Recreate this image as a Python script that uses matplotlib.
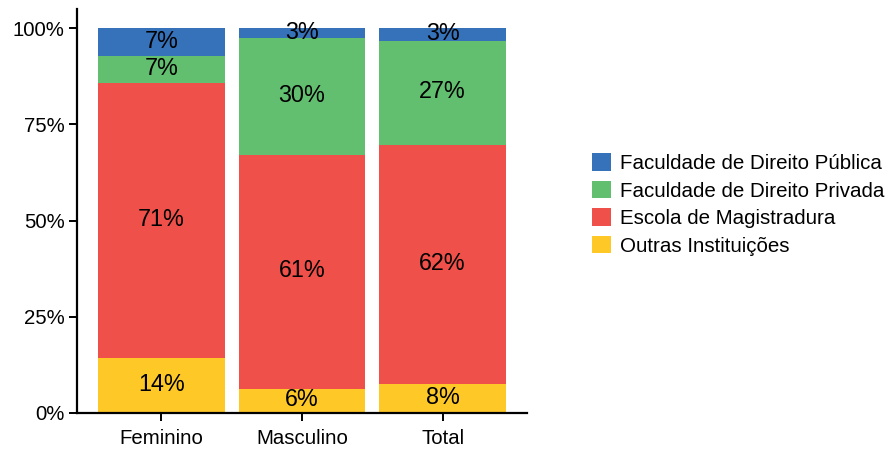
import matplotlib
matplotlib.use("Agg")
import matplotlib.pyplot as plt
import numpy as np

# dados (percentual por grupo)
groups = ["Feminino", "Masculino", "Total"]
outras = [14.4, 6.3, 7.6]
escola = [71.3, 60.7, 62.1]
privada = [7.0, 30.4, 26.9]
publica = [7.3, 2.6, 3.4]
series_names = ["Outras Instituições", "Escola de Magistradura",
                "Faculdade de Direito Privada", "Faculdade de Direito Pública"]
colors = ["#fec927", "#ef5049", "#62bf6f", "#3672b9"]
yticks = [0, 25, 50, 75, 100]

plt.rcParams["font.family"] = ["Liberation Sans", "DejaVu Sans"]

fig = plt.figure(figsize=(8.9, 4.5), dpi=100)
ax = fig.add_axes([77/890, 37/450, 450/890, 404/450])

x = np.arange(len(groups))
bottom = np.zeros(len(groups))
handles = []
for vals, name, col in zip([outras, escola, privada, publica], series_names, colors):
    vals = np.array(vals, float)
    b = ax.bar(x, vals, width=0.9, bottom=bottom, color=col, label=name, linewidth=0)
    handles.append(b)
    for xi, v, bo in zip(x, vals, bottom):
        ax.text(xi, bo + v/2 + 0.3, f"{v:.0f}%", ha="center", va="center", fontsize=16.8, color="black")
    bottom += vals

ax.set_xlim(-0.6, 2.6)
ax.set_ylim(0, 105)
ax.set_xticks(x, groups)
ax.set_yticks(yticks, [f"{t}%" for t in yticks])
ax.tick_params(labelsize=14.7, length=5.5, width=1.4, colors="black")
ax.tick_params(axis="x", pad=6)
for s in ["top", "right"]:
    ax.spines[s].set_visible(False)
for s in ["left", "bottom"]:
    ax.spines[s].set_linewidth(1.6)

fig.legend(handles[::-1], series_names[::-1], loc="center left",
           bbox_to_anchor=(592/890, (450-204.5)/450), frameon=False,
           fontsize=14.8, borderpad=0, borderaxespad=0, handlelength=0.92,
           handleheight=0.92, handletextpad=0.42, labelspacing=0.38)

fig.savefig("out.png", dpi=100)
